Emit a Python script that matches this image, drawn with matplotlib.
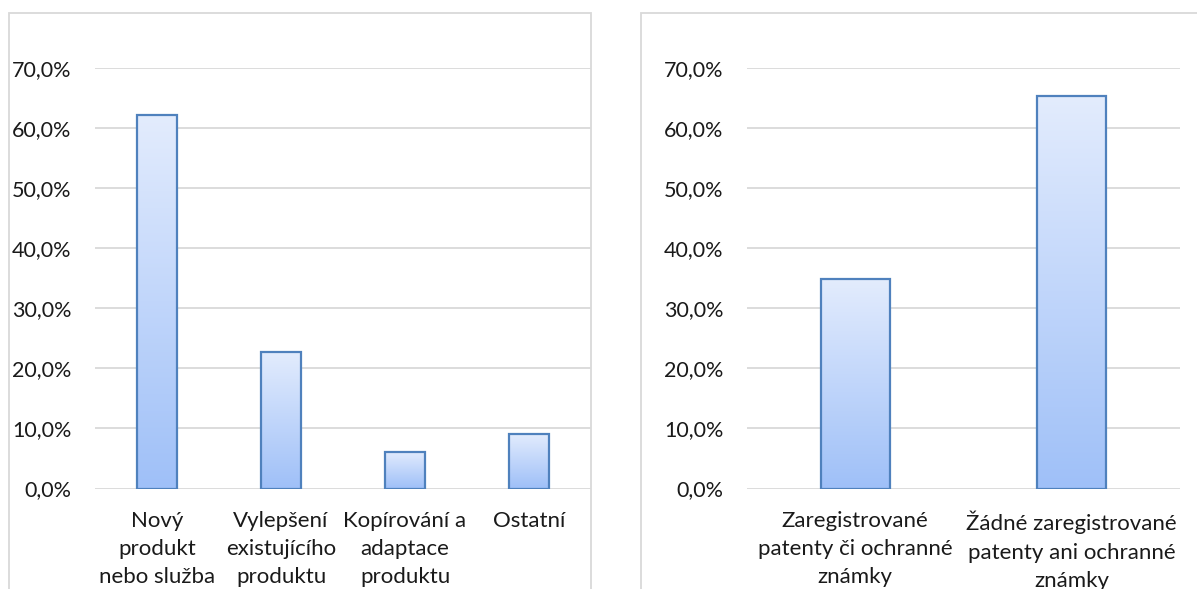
import numpy as np
import matplotlib

matplotlib.use("Agg")

import matplotlib.pyplot as plt  # noqa: E402
from matplotlib.patches import Rectangle  # noqa: E402
from matplotlib.ticker import FuncFormatter, MultipleLocator  # noqa: E402

plt.rcParams["font.family"] = ["Lato", "DejaVu Sans"]

# left chart: type of innovation
left_labels = [
    "Nový\nprodukt\nnebo služba",
    "Vylepšení\nexistujícího\nproduktu",
    "Kopírování a\nadaptace\nproduktu",
    "Ostatní",
]
left_values = [0.622, 0.227, 0.061, 0.091]

# right chart: patents / trademarks
right_labels = [
    "Zaregistrované\npatenty či ochranné\nznámky",
    "Žádné zaregistrované\npatenty ani ochranné\nznámky",
]
right_values = [0.348, 0.653]

GRID = "#D9D9D9"
EDGE = "#4F81BD"
TOP_COL = np.array([0xE3, 0xEC, 0xFD]) / 255
BOT_COL = np.array([0x9F, 0xC0, 0xF8]) / 255


def pct(v, pos):
    return f"{v * 100:.1f}%".replace(".", ",")


def gradient_bars(ax, labels, values):
    x = np.arange(len(values))
    bars = ax.bar(x, values, width=0.32, facecolor="none", edgecolor=EDGE,
                  linewidth=1.6, zorder=3)
    t = np.linspace(0, 1, 256)[:, None]
    grad = TOP_COL[None, None, :] * (1 - t[..., None]) + BOT_COL[None, None, :] * t[..., None]
    grad = np.repeat(grad, 2, axis=1)
    for b in bars:
        x0, w, h = b.get_x(), b.get_width(), b.get_height()
        im = ax.imshow(grad, extent=[x0, x0 + w, 0, h], aspect="auto",
                       origin="upper", zorder=2, interpolation="bilinear")
        im.set_clip_path(b)
    ax.set_xlim(-0.5, len(values) - 0.5)
    ax.set_ylim(0, 0.7)
    ax.set_xticks(x)
    ax.set_xticklabels(labels, fontsize=16, linespacing=1.52, color="#1a1a1a")
    ax.yaxis.set_major_locator(MultipleLocator(0.1))
    ax.yaxis.set_major_formatter(FuncFormatter(pct))
    ax.tick_params(axis="y", length=0, pad=17, labelsize=15.5, labelcolor="#1a1a1a")
    ax.tick_params(axis="x", length=0, pad=16)
    ax.grid(axis="y", color=GRID, linewidth=1.3, zorder=0)
    ax.set_axisbelow(True)
    for s in ax.spines.values():
        s.set_visible(False)


fig = plt.figure(figsize=(11.97, 5.89), dpi=100)
W, H = 1197, 589

# panel frames (cropped at the bottom / right like the reference)
fig.patches.append(Rectangle((9 / W, -0.1), (591 - 9) / W, 1.1 - 13 / H,
                             transform=fig.transFigure, fill=False,
                             edgecolor=GRID, linewidth=1.3))
fig.patches.append(Rectangle((641 / W, -0.1), 0.5, 1.1 - 13 / H,
                             transform=fig.transFigure, fill=False,
                             edgecolor=GRID, linewidth=1.3))

ax1 = fig.add_axes([95 / W, 1 - 488.5 / H, 496 / W, (488.5 - 68) / H])
ax2 = fig.add_axes([747 / W, 1 - 488.5 / H, 433 / W, (488.5 - 68) / H])

gradient_bars(ax1, left_labels, left_values)
gradient_bars(ax2, right_labels, right_values)

fig.savefig("out.png", dpi=100)
